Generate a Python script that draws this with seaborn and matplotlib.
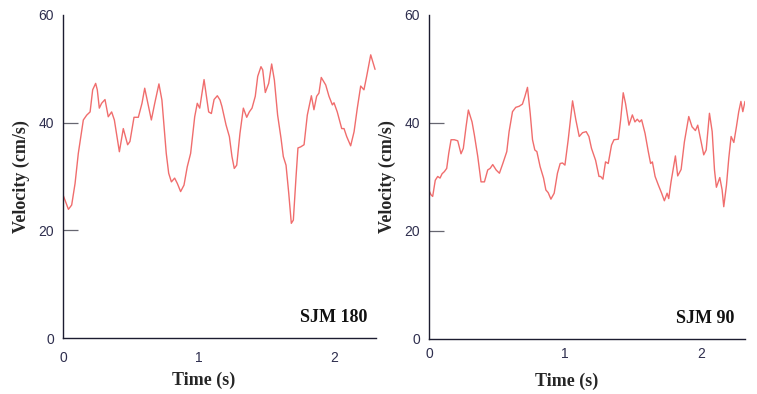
import matplotlib
matplotlib.use("Agg")
import matplotlib.pyplot as plt
import seaborn as sns
import pandas as pd

# ---- data ----
left_time = [0.0, 0.04, 0.064, 0.089, 0.113, 0.15, 0.175, 0.2, 0.219, 0.241, 0.253, 0.268, 0.285, 0.31,
             0.334, 0.359, 0.379, 0.416, 0.445, 0.477, 0.494, 0.524, 0.556, 0.583, 0.603, 0.652, 0.677,
             0.708, 0.73, 0.762, 0.78, 0.8, 0.824, 0.844, 0.868, 0.893, 0.917, 0.942, 0.972, 0.991,
             1.009, 1.041, 1.075, 1.095, 1.115, 1.139, 1.159, 1.173, 1.203, 1.228, 1.247, 1.264, 1.282,
             1.306, 1.331, 1.356, 1.375, 1.395, 1.419, 1.437, 1.461, 1.474, 1.493, 1.518, 1.540, 1.56,
             1.584, 1.609, 1.626, 1.646, 1.666, 1.685, 1.7, 1.72, 1.734, 1.754, 1.779, 1.803, 1.833,
             1.852, 1.872, 1.889, 1.906, 1.939, 1.963, 1.988, 2.0, 2.024, 2.057, 2.074, 2.094, 2.123,
             2.148, 2.172, 2.197, 2.221, 2.241, 2.271, 2.303]
left_velocity = [26.6, 23.9, 24.7, 28.7, 34.3, 40.5, 41.4, 42.0, 46.1, 47.3, 46.1, 42.7, 43.6, 44.3,
                 41.1, 42.0, 40.5, 34.6, 38.9, 35.9, 36.5, 41.0, 41.0, 43.6, 46.4, 40.5, 43.6,
                 47.2, 44.2, 34.3, 30.6, 29.0, 29.7, 28.7, 27.2, 28.4, 31.8, 34.3, 41.1, 43.6,
                 42.7, 48.0, 42.0, 41.7, 44.3, 45.0, 44.2, 43.0, 39.6, 37.4, 33.7, 31.5, 32.1,
                 38.0, 42.7, 41.0, 42.0, 42.7, 44.9, 48.6, 50.4, 49.8, 45.6, 47.3, 50.9, 47.9,
                 41.4, 37.1, 33.7, 32.1, 26.9, 21.3, 21.9, 30.0, 35.3, 35.5, 35.9, 41.4, 45.0,
                 42.4, 44.9, 45.5, 48.4, 47.0, 44.9, 43.3, 43.7, 42.0, 38.9, 38.9, 37.4, 35.7,
                 38.3, 42.7, 46.8, 46.1, 48.6, 52.6, 49.9]

right_time = [0.0, 0.015, 0.027, 0.046, 0.064, 0.081, 0.096, 0.113, 0.13, 0.145, 0.162, 0.186, 0.211,
              0.235, 0.252, 0.272, 0.289, 0.316, 0.333, 0.358, 0.382, 0.407, 0.431, 0.449, 0.468,
              0.493, 0.517, 0.542, 0.571, 0.588, 0.613, 0.637, 0.662, 0.686, 0.704, 0.723, 0.743,
              0.76, 0.777, 0.792, 0.816, 0.841, 0.858, 0.875, 0.895, 0.919, 0.943, 0.963, 0.98,
              0.998, 1.022, 1.054, 1.078, 1.103, 1.127, 1.154, 1.174, 1.193, 1.223, 1.248, 1.26,
              1.277, 1.296, 1.316, 1.34, 1.358, 1.39, 1.407, 1.426, 1.443, 1.468, 1.493, 1.512,
              1.529, 1.546, 1.561, 1.586, 1.61, 1.627, 1.64, 1.66, 1.684, 1.708, 1.728, 1.748,
              1.76, 1.777, 1.809, 1.826, 1.851, 1.875, 1.907, 1.931, 1.956, 1.973, 1.998, 2.017,
              2.035, 2.059, 2.079, 2.096, 2.11, 2.135, 2.152, 2.164, 2.184, 2.201, 2.218, 2.238,
              2.257, 2.274, 2.29, 2.304, 2.32]
right_velocity = [27.5, 26.7, 26.4, 29.4, 30.1, 29.8, 30.6, 31.0, 31.6, 34.4, 36.9, 36.9, 36.7,
                  34.3, 35.3, 39.3, 42.4, 40.2, 37.8, 33.8, 29.1, 29.1, 31.3, 31.6, 32.3,
                  31.3, 30.7, 32.5, 34.7, 38.4, 42.1, 42.9, 43.1, 43.5, 44.9, 46.6, 41.8,
                  36.9, 35.0, 34.7, 31.9, 29.8, 27.6, 27.1, 25.9, 27.0, 30.7, 32.5, 32.6,
                  32.2, 36.9, 44.1, 40.6, 37.5, 38.2, 38.4, 37.5, 35.3, 33.1, 30.1, 30.1,
                  29.6, 32.8, 32.5, 35.9, 36.9, 37.0, 40.6, 45.6, 43.6, 39.6, 41.5, 40.2,
                  40.7, 40.2, 40.6, 38.1, 34.7, 32.5, 32.8, 30.1, 28.5, 27.0, 25.6, 27.0,
                  26.0, 29.1, 33.9, 30.2, 31.4, 36.5, 41.2, 39.3, 38.6, 39.6, 36.5, 34.1,
                  35.0, 41.8, 38.4, 31.3, 28.1, 29.9, 27.6, 24.5, 28.5, 33.5, 37.5, 36.4,
                  39.3, 42.1, 44.0, 42.1, 44.0]

panel_labels = ["SJM 180", "SJM 90"]
y_ticks = [0, 20, 40, 60]
x_ticks = [0, 1, 2]
x_label = "Time (s)"
y_label = "Velocity (cm/s)"

# ---- style ----
sns.set_style("white")
plt.rcParams["font.family"] = ["Liberation Sans", "DejaVu Sans"]

LINE_COLOR = "#f06d6d"
AXIS_COLOR = "#1c1c30"
TICKLABEL_COLOR = "#2e2e4e"
SERIF = ["Liberation Serif", "DejaVu Serif"]

fig = plt.figure(figsize=(7.57, 3.94), dpi=100)
ax_l = fig.add_axes([63 / 757, 56 / 394, 313 / 757, 323 / 394])
ax_r = fig.add_axes([429 / 757, 55 / 394, 316 / 757, 324 / 394])

df_l = pd.DataFrame({"t": left_time, "v": left_velocity})
df_r = pd.DataFrame({"t": right_time, "v": right_velocity})

for ax, df, xmax, label, lab_x, xtick_dir, xlab_x in [
    (ax_l, df_l, 2.31, panel_labels[0], 0.974, "inout", 0.45),
    (ax_r, df_r, 2.32, panel_labels[1], 0.965, "in", 0.434),
]:
    sns.lineplot(data=df, x="t", y="v", ax=ax, color=LINE_COLOR, linewidth=1.0,
                 sort=False, estimator=None)
    ax.set_xlim(0, xmax)
    ax.set_ylim(0, 60)
    for s in ["top", "right"]:
        ax.spines[s].set_visible(False)
    for s in ["left", "bottom"]:
        ax.spines[s].set_color(AXIS_COLOR)
        ax.spines[s].set_linewidth(1.0)
    ax.set_yticks(y_ticks)
    ax.set_xticks(x_ticks)
    ax.set_yticks([20, 40], minor=True)
    ax.yaxis.remove_overlapping_locs = False
    ax.tick_params(axis="y", which="major", direction="out", length=3.5, width=0.9,
                   color="#444455", labelsize=10, labelcolor=TICKLABEL_COLOR, pad=3)
    ax.tick_params(axis="y", which="minor", direction="in", length=11, width=0.9,
                   color="#666670", left=True)
    ax.tick_params(axis="x", which="major", direction=xtick_dir, length=7 if xtick_dir == "inout" else 4,
                   width=0.8, color="#777780", labelsize=10, labelcolor=TICKLABEL_COLOR, pad=6)
    ax.tick_params(axis="x", which="minor", bottom=False)
    ax.set_xlabel(x_label, fontsize=13, fontweight="bold", family=SERIF)
    ax.xaxis.set_label_coords(xlab_x, -0.105)
    ax.set_ylabel(y_label, fontsize=13, fontweight="bold", family=SERIF, labelpad=6)
    ax.text(lab_x, 0.063, label, transform=ax.transAxes, ha="right", va="center",
            fontsize=13, fontweight="bold", family=SERIF, color="#111111")
    ax.grid(False)

fig.savefig("out.png", dpi=100)
